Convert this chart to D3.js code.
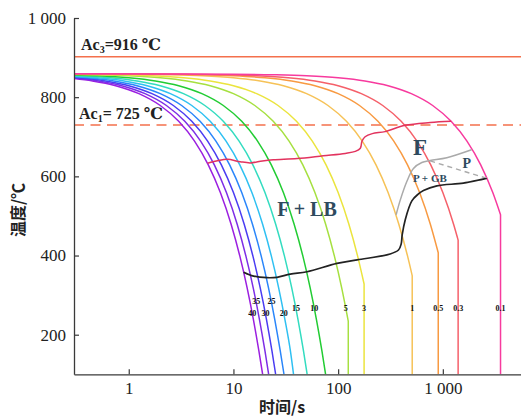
<!DOCTYPE html>
<html><head><meta charset="utf-8">
<script src="https://cdn.jsdelivr.net/npm/d3@7"></script>
<style>
html,body{margin:0;padding:0;background:#fff;}
svg{display:block;}
</style></head>
<body>
<svg id="chart" width="521" height="419"></svg>
<script>
// ---- data ----
const rateLabels = ["40","35","30","25","20","15","10","5","3","1","0.5","0.3","0.1"];
const curveColors = ["#9b1fe0","#7d2ee6","#4a3cf2","#2a86fa","#2fc0f2","#33dcc0","#22cc33","#a6e040","#ebe43e","#f6c257","#f89a42","#f5606a","#f73a9e"];
const labelTemps = [252,281,252,281,252,265,265,265,265,265,265,265,265];

const cool40 = [[0.3,847],[0.45,841],[0.75,829],[1.25,809],[2,779],[3,739],[4.25,689],[5.75,629],[7.5,559],[9.5,479],[11.5,399],[13.5,319],[15.5,239],[17.5,159],[19,100]];
const cool35 = [[0.3,848.5],[0.514,841],[0.857,829],[1.43,809],[2.29,779],[3.43,739],[4.86,689],[6.57,629],[8.57,559],[10.86,479],[13.14,399],[15.43,319],[17.71,239],[20,159],[21.7,100]];
const cool30 = [[0.3,850],[0.333,849],[0.6,841],[1,829],[1.667,809],[2.667,779],[4,739],[5.667,689],[7.667,629],[10,559],[12.67,479],[15.33,399],[18,319],[20.67,239],[23.33,159],[25.3,100]];
const cool25 = [[0.3,851.5],[0.4,849],[0.72,841],[1.2,829],[2,809],[3.2,779],[4.8,739],[6.8,689],[9.2,629],[12,559],[15.2,479],[18.4,399],[21.6,319],[24.8,239],[28,159],[30.4,100]];
const cool20 = [[0.3,853],[0.5,849],[0.9,841],[1.5,829],[2.5,809],[4,779],[6,739],[8.5,689],[11.5,629],[15,559],[19,479],[23,399],[27,319],[31,239],[35,159],[37.5,100]];
const cool15 = [[0.3,854.5],[0.333,854],[0.667,849],[1.2,841],[2,829],[3.333,809],[5.333,779],[8,739],[11.33,689],[15.33,629],[20,559],[25.33,479],[30.67,399],[36,319],[41.33,239],[46.67,159],[50.6,100]];
const cool10 = [[0.3,856],[0.5,854],[1,849],[1.8,841],[3,829],[5,809],[8,779],[12,739],[17,689],[23,629],[30,559],[38,479],[46,399],[54,319],[62,239],[70,159],[75.9,100]];
const cool5 = [[0.3,857.5],[0.5,856.5],[1,854],[2,849],[3.6,841],[6,829],[10,809],[16,779],[24,739],[34,689],[46,629],[60,559],[76,479],[92,399],[108,319],[125,234],[125,100]];
const cool3 = [[0.3,858.1],[0.333,858],[0.833,856.5],[1.667,854],[3.333,849],[6,841],[10,829],[16.67,809],[26.67,779],[40,739],[56.67,689],[76.67,629],[100,559],[126.7,479],[153.3,399],[177,328],[177,100]];
const cool1 = [[0.3,858.7],[1,858],[2.5,856.5],[5,854],[10,849],[18,841],[30,829],[50,809],[80,779],[120,739],[170,689],[230,629],[300,559],[380,479],[460,399],[510,349],[510,100]];
const cool05 = [[0.3,858.85],[2,858],[5,856.5],[10,854],[20,849],[36,841],[60,829],[100,809],[160,779],[240,739],[340,689],[460,629],[600,559],[760,479],[904,407],[904,100]];
const cool03 = [[0.3,858.9],[3.33,858],[8.33,856.5],[16.67,854],[33.3,849],[60,841],[100,829],[166.7,809],[266.7,779],[400,739],[566.7,689],[766.7,629],[1000,559],[1267,479],[1400,439],[1400,100]];
const cool01 = [[0.3,858.97],[10,858],[25,856.5],[50,854],[100,849],[180,841],[300,829],[500,809],[800,779],[1200,739],[1700,689],[2300,629],[3000,559],[3557,503],[3557,100]];
const coolingCurves = [cool40,cool35,cool30,cool25,cool20,cool15,cool10,cool5,cool3,cool1,cool05,cool03,cool01];

// phase boundaries [time s, temperature C]
const ferriteStart = [[5.65,633],[7.18,640],[8.74,643],[11.6,637],[14.5,634],[18.9,639],[24,642],[40.7,645],[72.1,652],[117,658],[146,663],[163,671],[169,689],[181,700],[212,708],[281,713],[436,729],[757,736],[1200,739]];
const bainiteFinish = [[12.5,358],[15.6,348],[20.9,344],[26.1,345],[34.9,353],[50.4,359],[97.4,380],[152,389],[314,404],[377,414],[400,429],[409,452],[437,490],[506,538],[581,555],[653,564],[877,576],[1574,583],[2630,595]];
const pearliteStart = [[358,503],[392,540],[453,587],[524,620],[630,635],[757,640],[1092,647],[1880,667]];
const pearliteSplit = [[757,639],[2630,595]];

const ac3Temp = 902, ac1Temp = 730;
const yTicks = [200,400,600,800,1000];
const xTicks = [1,10,100,1000];

// ---- drawing ----
const svg = d3.select("#chart");
const x = d3.scaleLog().domain([0.3,5580]).range([74,521]);
const y = d3.scaleLinear().domain([100,1000]).range([374.3,18]);
const serif = "'Liberation Serif','DejaVu Serif',serif";
const cjk = "'Noto Sans CJK SC','Noto Sans',sans-serif";

svg.append("clipPath").attr("id","plot").append("rect")
  .attr("x",74).attr("y",0).attr("width",447).attr("height",374.3);

const g = svg.append("g").attr("clip-path","url(#plot)");

// Ac lines
g.append("line").attr("x1",x(0.3)).attr("x2",521).attr("y1",y(ac3Temp)).attr("y2",y(ac3Temp))
  .attr("stroke","#f4704c").attr("stroke-width",1.5);
g.append("line").attr("x1",x(0.3)).attr("x2",521).attr("y1",y(ac1Temp)).attr("y2",y(ac1Temp))
  .attr("stroke","#f4704c").attr("stroke-width",1.5).attr("stroke-dasharray","10,6.5");

const smooth = d3.line().x(d=>x(d[0])).y(d=>y(d[1])).curve(d3.curveMonotoneX);
coolingCurves.forEach((pts,i)=>{
  const n = pts.length;
  let main = pts, tail = null;
  if (n>1 && pts[n-1][0]===pts[n-2][0]) { main = pts.slice(0,n-1); tail = pts[n-1]; }
  let dstr = smooth(main);
  if (tail) dstr += "L" + x(tail[0]) + "," + y(tail[1]);
  g.append("path").attr("d",dstr).attr("fill","none")
    .attr("stroke",curveColors[i]).attr("stroke-width",1.5);
});

const cr = d3.line().x(d=>x(d[0])).y(d=>y(d[1])).curve(d3.curveCatmullRom.alpha(0.5));
g.append("path").attr("d",cr(ferriteStart)).attr("fill","none").attr("stroke","#e2335e").attr("stroke-width",1.5);
g.append("path").attr("d",cr(pearliteStart)).attr("fill","none").attr("stroke","#aaaaaa").attr("stroke-width",1.5);
g.append("path").attr("d",d3.line().x(d=>x(d[0])).y(d=>y(d[1]))(pearliteSplit)).attr("fill","none")
  .attr("stroke","#aaaaaa").attr("stroke-width",1.4).attr("stroke-dasharray","5,4");
g.append("path").attr("d",cr(bainiteFinish)).attr("fill","none").attr("stroke","#222").attr("stroke-width",1.7);

// rate labels at a temperature level on each curve
function xAtTemp(pts, T){
  for (let k=0;k<pts.length-1;k++){
    const a=pts[k], b=pts[k+1];
    if ((a[1]-T)*(b[1]-T)<=0){
      if (a[1]===b[1]) return x(a[0]);
      const f=(a[1]-T)/(a[1]-b[1]);
      return x(Math.exp(Math.log(a[0])+f*(Math.log(b[0])-Math.log(a[0]))));
    }
  }
  return x(pts[pts.length-1][0]);
}
coolingCurves.forEach((pts,i)=>{
  svg.append("text").attr("x",xAtTemp(pts,labelTemps[i])).attr("y",y(labelTemps[i]))
    .attr("text-anchor","middle").attr("dominant-baseline","middle")
    .attr("font-family",serif).attr("font-weight","bold").attr("font-size",8).attr("fill","#111")
    .text(rateLabels[i]);
});

// axes
const fmt = d=> d>=1000 ? String(d).replace(/(\d)(\d{3})$/,"$1 $2") : String(d);
const ya = svg.append("g").attr("transform","translate(74,0)")
  .call(d3.axisLeft(y).tickValues(yTicks).tickSizeInner(-5).tickSizeOuter(0).tickPadding(8).tickFormat(fmt));
const xa = svg.append("g").attr("transform","translate(0,374.3)")
  .call(d3.axisBottom(x).tickValues(xTicks).tickSizeInner(-5).tickSizeOuter(0).tickPadding(8).tickFormat(fmt));
[ya,xa].forEach(a=>{
  a.select(".domain").attr("stroke","#3a3a3a").attr("stroke-width",1.3);
  a.selectAll(".tick line").attr("stroke","#3a3a3a").attr("stroke-width",1.2);
  a.selectAll(".tick text").attr("font-family",serif).attr("font-size",17).attr("fill","#222");
});

// Ac labels
const ac3 = svg.append("text").attr("x",81).attr("y",49.5).attr("font-family",serif).attr("font-size",16).attr("font-weight","bold").attr("fill","#222");
ac3.append("tspan").text("Ac");
ac3.append("tspan").attr("font-size",10).attr("dy",3).text("3");
ac3.append("tspan").attr("dy",-3).text("=916 ℃");
const ac1 = svg.append("text").attr("x",79).attr("y",119).attr("font-family",serif).attr("font-size",16).attr("font-weight","bold").attr("fill","#222");
ac1.append("tspan").text("Ac");
ac1.append("tspan").attr("font-size",10).attr("dy",3).text("1");
ac1.append("tspan").attr("dy",-3).text("= 725 ℃");

// phase labels
const phaseColor = "#2e4a5e";
svg.append("text").attr("x",307).attr("y",216).attr("text-anchor","middle").attr("font-family",serif)
  .attr("font-weight","bold").attr("font-size",20).attr("fill",phaseColor).text("F + LB");
svg.append("text").attr("x",413).attr("y",155).attr("font-family",serif)
  .attr("font-weight","bold").attr("font-size",23).attr("fill",phaseColor).text("F");
svg.append("text").attr("x",462.5).attr("y",167.5).attr("font-family",serif)
  .attr("font-weight","bold").attr("font-size",14).attr("fill",phaseColor).text("P");
svg.append("text").attr("x",413).attr("y",182).attr("font-family",serif)
  .attr("font-weight","bold").attr("font-size",11).attr("fill",phaseColor).text("P + GB");

// axis titles
svg.append("text").attr("x",282).attr("y",413).attr("text-anchor","middle")
  .attr("font-family",cjk).attr("font-weight","bold").attr("font-size",16).attr("fill","#222").text("时间/s");
svg.append("text").attr("transform","translate(24,210) rotate(-90)").attr("text-anchor","middle")
  .attr("font-family",cjk).attr("font-weight","bold").attr("font-size",16).attr("fill","#222").text("温度/℃");
</script>
</body></html>
